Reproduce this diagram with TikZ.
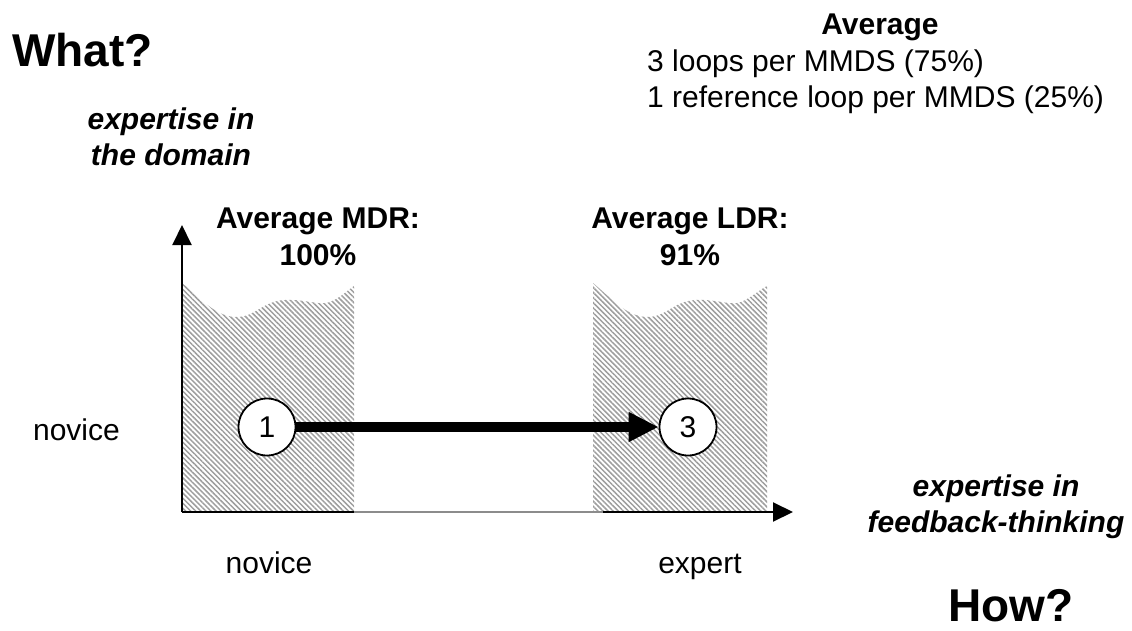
\documentclass[tikz,border=0pt]{standalone}
\usepackage{fontspec}
\setmainfont{Liberation Sans}
\usetikzlibrary{arrows.meta,patterns.meta}

\tikzset{
  txt/.style={inner sep=0pt, anchor=base, font=\fontsize{30}{36}\selectfont},
  btxt/.style={txt, font=\fontsize{30}{36}\selectfont\bfseries},
  bitxt/.style={txt, font=\fontsize{30}{36}\selectfont\bfseries\itshape},
  bigq/.style={txt, anchor=base west, font=\fontsize{46}{52}\selectfont\bfseries},
  hatch/.style={pattern={Lines[angle=-45,distance=3.6pt,line width=1.5pt]}, pattern color=black!38},
  axis/.style={line width=2pt, -{Triangle[length=20pt,width=19pt]}},
  stage/.style={circle, draw, line width=1.8pt, fill=white, minimum size=57pt,
                inner sep=0pt, font=\fontsize{30}{36}\selectfont},
  move/.style={line width=9.5pt, -{Triangle[length=30pt,width=28pt]}}
}

\begin{document}
\begin{tikzpicture}[x=1pt,y=-1pt]
\useasboundingbox (0,0) rectangle (1132,631);

% shaded regions with a torn upper edge
\fill[hatch] (182,512) -- (182,283)
  .. controls (200,298) and (215,316) .. (235,317)
  .. controls (255,318) and (262,301) .. (285,300)
  .. controls (305,299) and (320,306) .. (330,302)
  .. controls (340,298) and (348,290) .. (354,286)
  -- (354,512) -- cycle;
\begin{scope}[shift={(411,0)}]
\fill[hatch] (182,512) -- (182,283)
  .. controls (200,298) and (215,316) .. (235,317)
  .. controls (255,318) and (262,301) .. (285,300)
  .. controls (305,299) and (320,306) .. (330,302)
  .. controls (340,298) and (348,290) .. (356,286)
  -- (356,512) -- cycle;
\end{scope}

% axes
\coordinate (O) at (182,512);
\coordinate (ytop) at (182,225);
\coordinate (xend) at (793,512);
\coordinate (gapL) at (354,512);
\coordinate (gapR) at (603,512);
\draw[axis] (O) -- (ytop);
\draw[axis] (O) -- (xend);
\draw[line width=2pt, black!45] (gapL) -- (gapR);

% stages
\node[stage] (s1) at (267,427) {1};
\node[stage] (s3) at (688,427) {3};
\draw[move] (s1) -- (s3);

% headings
\node[bigq] (what) at (12,67) {What?};
\node[bigq] (how) at (948,621) {How?};

% axis titles
\node[bitxt] (yl1) at (171,130) {expertise in};
\node[bitxt] (yl2) at (171,166) {the domain};
\node[bitxt] (xl1) at (996,496) {expertise in};
\node[bitxt] (xl2) at (996,532) {feedback-thinking};

% axis ticks
\node[txt, anchor=base east] (nov1) at (120,440) {novice};
\node[txt] (nov2) at (269,573) {novice};
\node[txt] (exp) at (700,573) {expert};

% ratios
\node[btxt] (mdr1) at (318,229) {Average MDR:};
\node[btxt] (mdr2) at (318,265) {100\%};
\node[btxt] (ldr1) at (690,229) {Average LDR:};
\node[btxt] (ldr2) at (690,265) {91\%};

% averages
\node[btxt] (avg) at (880,35) {Average};
\node[txt, anchor=base west] (avg1) at (647,72) {3 loops per MMDS (75\%)};
\node[txt, anchor=base west] (avg2) at (647,108) {1 reference loop per MMDS (25\%)};
\end{tikzpicture}
\end{document}
